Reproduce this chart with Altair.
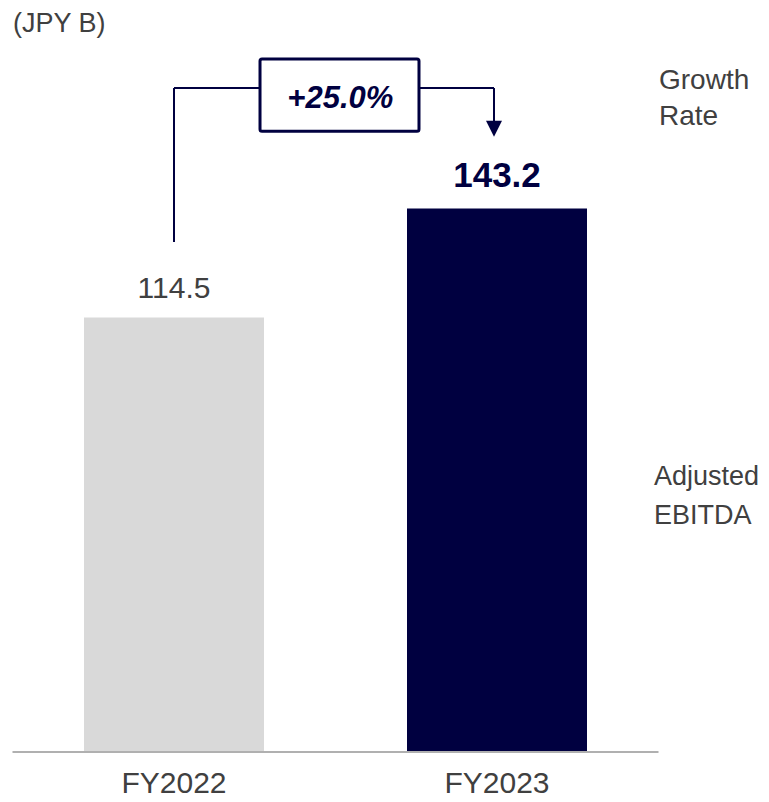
import altair as alt
import pandas as pd

# ---- data ----
categories = ["FY2022", "FY2023"]
values = [114.5, 143.2]
growth_label = "+25.0%"
unit_label = "(JPY B)"
growth_lines = ["Growth", "Rate"]
ebitda_lines = ["Adjusted", "EBITDA"]
bar_colors = ["#d9d9d9", "#000040"]

NAVY = "#000040"
GRAY_TXT = "#404040"
FONT = "Liberation Sans"

# ---- layout (pixels of the plot area) ----
W, H = 753, 786
BASE_Y = 744          # pixel row of value 0
PX_PER_UNIT = 3.795   # vertical pixels per JPY B
X0, STEP = 166, 323   # pixel column of first category and spacing

xs = alt.Scale(domain=[-X0 / STEP, (W - X0) / STEP], nice=False, zero=False, padding=0)
ys = alt.Scale(domain=[-(H - BASE_Y) / PX_PER_UNIT, BASE_Y / PX_PER_UNIT], nice=False, zero=False, padding=0)

df = pd.DataFrame({
    "cat": categories,
    "idx": list(range(len(categories))),
    "value": values,
    "zero": [0.0] * len(categories),
})

X = lambda f: alt.X(f, type="quantitative", scale=xs, axis=None)
Y = lambda f: alt.Y(f, type="quantitative", scale=ys, axis=None)

bars = alt.Chart(df).mark_bar(size=180).encode(
    x=X("idx"),
    y=Y("value"),
    y2="zero:Q",
    color=alt.Color("cat:N", scale=alt.Scale(domain=categories, range=bar_colors), legend=None),
)

axis_line = alt.Chart(pd.DataFrame({"x": [-0.5], "x2": [len(categories) - 0.5], "y": [0.0]})).mark_rule(
    color="#b0b0b0", strokeWidth=2
).encode(x=X("x"), x2="x2:Q", y=Y("y"))

lab_prev = alt.Chart(df).transform_filter("datum.idx == 0").mark_text(
    font=FONT, fontSize=30, color=GRAY_TXT, baseline="alphabetic", dy=-19
).encode(x=X("idx"), y=Y("value"), text="value:Q")

lab_cur = alt.Chart(df).transform_filter("datum.idx == 1").mark_text(
    font=FONT, fontSize=35, fontWeight="bold", color=NAVY, baseline="alphabetic", dy=-22
).encode(x=X("idx"), y=Y("value"), text="value:Q")

cat_labels = alt.Chart(df).mark_text(
    font=FONT, fontSize=30, color=GRAY_TXT, baseline="alphabetic", dy=41
).encode(x=X("idx"), y=Y("zero"), text="cat:N")

# ---- growth bracket (in data units) ----
bracket_y = 175.0
left_bottom = values[0] + 19.9
arrow_x = 1 - 3 / STEP
arrow_y = 164.2
segs = pd.DataFrame({
    "x": [0.0, 0.0, arrow_x],
    "y": [left_bottom, bracket_y, bracket_y],
    "x2": [0.0, arrow_x, arrow_x],
    "y2": [bracket_y, bracket_y, arrow_y],
})
bracket = alt.Chart(segs).mark_rule(color=NAVY, strokeWidth=2).encode(
    x=X("x"), y=Y("y"), x2="x2:Q", y2="y2:Q"
)

arrow = alt.Chart(pd.DataFrame({"x": [arrow_x], "y": [arrow_y]})).mark_point(
    shape="M-1,-1L1,-1L0,1Z", size=256, filled=True, color=NAVY, opacity=1
).encode(x=X("x"), y=Y("y"))

box = alt.Chart(pd.DataFrame({"x": [0.2663], "x2": [0.7585], "y": [163.6], "y2": [182.6]})).mark_rect(
    fill="white", stroke=NAVY, strokeWidth=3, cornerRadius=2
).encode(x=X("x"), x2="x2:Q", y=Y("y"), y2="y2:Q")

growth_txt = alt.Chart(pd.DataFrame({"x": [0.515], "y": [169.7], "t": [growth_label]})).mark_text(
    font=FONT, fontSize=31, fontWeight="bold", fontStyle="italic", color=NAVY, baseline="alphabetic"
).encode(x=X("x"), y=Y("y"), text="t:N")

side_df = pd.DataFrame({
    "t": [unit_label, growth_lines[0], growth_lines[1], ebitda_lines[0], ebitda_lines[1]],
    "px": [5, 651, 651, 646, 646],
    "py": [24, 81, 117, 477, 516],
    "fs": [27, 28, 28, 27, 27],
})
side = alt.Chart(side_df).mark_text(
    font=FONT, fontSize=28, color=GRAY_TXT, align="left", baseline="alphabetic"
).encode(
    x=alt.X("px:Q", scale=None, axis=None),
    y=alt.Y("py:Q", scale=None, axis=None),
    size=alt.Size("fs:Q", scale=None, legend=None),
    text="t:N",
)

chart = alt.layer(
    bars, axis_line, lab_prev, lab_cur, cat_labels, bracket, arrow, box, growth_txt, side
).properties(
    width=W, height=H, padding=0, autosize=alt.AutoSizeParams(type="none"), background="white"
).configure_view(stroke=None)

chart.save("out.html", embed_options={"renderer": "svg", "actions": False})
